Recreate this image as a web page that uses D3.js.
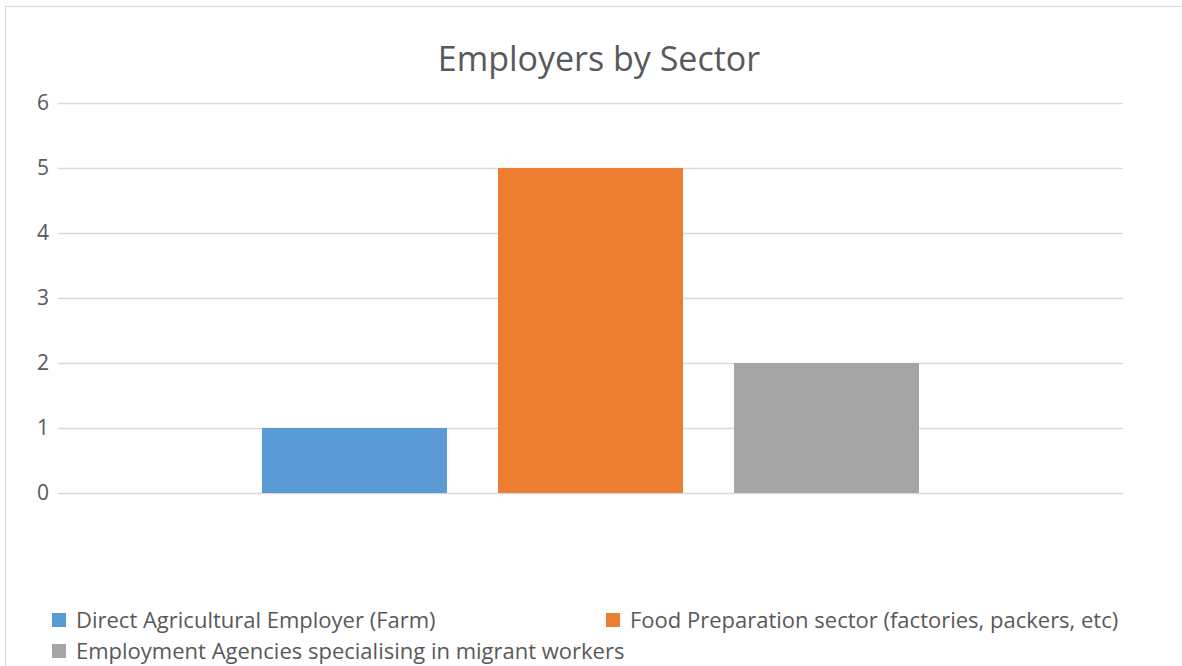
<!DOCTYPE html>
<html><head><meta charset="utf-8">
<script src="https://cdn.jsdelivr.net/npm/d3@7"></script>
<style>html,body{margin:0;padding:0;background:#fff;}svg{display:block;}</style>
</head><body>
<svg id="chart" width="1182" height="666"></svg>
<script>
const title = "Employers by Sector";
const series = ["Direct Agricultural Employer (Farm)", "Food Preparation sector (factories, packers, etc)", "Employment Agencies specialising in migrant workers"];
const values = [1, 5, 2];
const colors = ["#5b9bd5", "#ed7d31", "#a5a5a5"];
const yTicks = [0, 1, 2, 3, 4, 5, 6];

(function () {
const svg = d3.select("#chart");
const font = "'Open Sans', 'Noto Sans', sans-serif";
const textColor = "#595959";

// border
svg.append("rect").attr("x", 5.5).attr("y", 6.5).attr("width", 1200).attr("height", 700)
  .attr("fill", "none").attr("stroke", "#d9d9d9").attr("stroke-width", 1);

const pLeft = 58, pRight = 1123, pTop = 103, pBottom = 493;
const y = d3.scaleLinear().domain([0, 6]).range([pBottom, pTop]);
const x = d3.scaleBand().domain(series).range([262, 919]).paddingInner(0.216);

const yAxis = d3.axisLeft(y).tickValues(yTicks).tickSize(-(pRight - pLeft)).tickFormat(d3.format("d"));
const gy = svg.append("g").attr("transform", `translate(${pLeft},0)`).call(yAxis);
gy.select(".domain").remove();
gy.selectAll(".tick line").attr("stroke", "#d9d9d9").attr("stroke-width", 1.5);
gy.selectAll(".tick text").attr("x", -9).attr("fill", textColor)
  .style("font-family", font).style("font-size", "21px");

svg.append("g").selectAll("rect").data(series).join("rect")
  .attr("x", d => x(d)).attr("width", x.bandwidth())
  .attr("y", (d, i) => y(values[i])).attr("height", (d, i) => y(0) - y(values[i]))
  .attr("fill", (d, i) => colors[i]);

svg.append("text").attr("x", 599).attr("y", 71).attr("text-anchor", "middle")
  .attr("fill", textColor).style("font-family", font).style("font-size", "34px").text(title);

const legendPos = [[52, 613], [606, 613], [52, 644]];
const lg = svg.append("g").selectAll("g").data(series).join("g")
  .attr("transform", (d, i) => `translate(${legendPos[i][0]},${legendPos[i][1]})`);
lg.append("rect").attr("width", 14).attr("height", 14).attr("fill", (d, i) => colors[i]);
lg.append("text").attr("x", 24).attr("y", 14.5).attr("fill", textColor)
  .style("font-family", font).style("font-size", "22px").text(d => d);
})();
</script>
</body></html>
